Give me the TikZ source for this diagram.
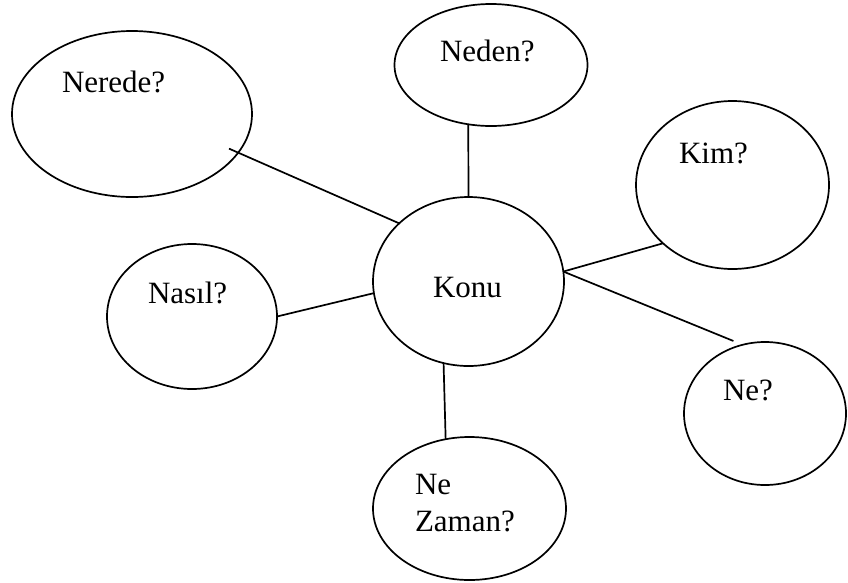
\documentclass[tikz,border=0pt]{standalone}
\usepackage{fontspec}
\setmainfont{Liberation Serif}
\usetikzlibrary{shapes.geometric}
\begin{document}
\begin{tikzpicture}[x=1pt,y=-1pt,
  bubble/.style 2 args={draw, ellipse, line width=1.7pt, inner sep=0pt,
    outer sep=0pt, minimum width=#1, minimum height=#2},
  lbl/.style={anchor=base west, inner sep=0pt, outer sep=0pt,
    font=\fontsize{31}{37}\selectfont},
  conn/.style={line width=1.7pt}]
% page area
\fill[white] (0,0) rectangle (848,582);
\useasboundingbox (0,0) rectangle (848,582);

% question bubbles around the topic
\node[bubble={240pt}{166pt}] (nerede)  at (132,114)   {};
\node[bubble={193pt}{122pt}] (neden)   at (491,65)    {};
\node[bubble={193pt}{168pt}] (kim)     at (732.5,185) {};
\node[bubble={191pt}{169pt}] (konu)    at (468.5,281.5) {};
\node[bubble={170pt}{145pt}] (nasil)   at (192,316.5) {};
\node[bubble={162pt}{143pt}] (ne)      at (765,413.5) {};
\node[bubble={193pt}{143pt}] (nezaman) at (469.5,508.5) {};

% labels
\node[lbl] (t-nerede) at (62,92)   {Nerede?};
\node[lbl] (t-neden)  at (440,61)  {Neden?};
\node[lbl] (t-kim)    at (679,163) {Kim?};
\node[lbl] (t-konu)   at (433,297) {Konu};
\node[lbl] (t-nasil)  at (148,303) {Nasıl?};
\node[lbl] (t-ne)     at (723,400) {Ne?};
\node[lbl, anchor=north west, align=left] (t-nezaman) at (415,474.5) {Ne\\Zaman?};

% spokes
\draw[conn, shorten <=-10pt] (nerede.-20) -- (konu.140.6);
\draw[conn] (neden.249.3) -- (konu.90);
\draw[conn] (kim.220) -- (konu.6.8);
\draw[conn] (nasil.0) -- (konu.187.5);
\draw[conn, shorten >=10pt] (konu.6.8) -- (ne.108.6);
\draw[conn] (konu.253.8) -- (nezaman.109.6);
\end{tikzpicture}
\end{document}
